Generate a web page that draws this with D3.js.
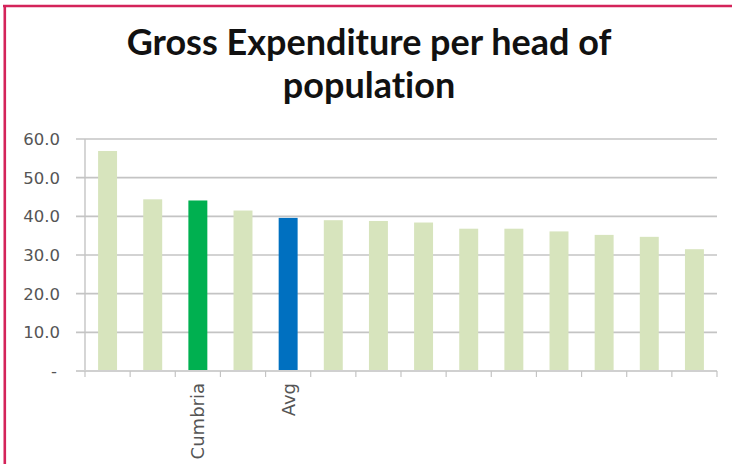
<!DOCTYPE html>
<html>
<head>
<meta charset="utf-8">
<script src="https://cdn.jsdelivr.net/npm/d3@7"></script>
<style>
  html, body { margin: 0; padding: 0; background: #fff; }
  svg { display: block; }
</style>
</head>
<body>
<svg id="chart" width="732" height="464"></svg>
<script>
// Gross expenditure per head of population, by authority (sorted high to low)
const barLabels = ["", "", "Cumbria", "", "Avg", "", "", "", "", "", "", "", "", ""];
const values = [56.9, 44.4, 44.1, 41.5, 39.6, 39.0, 38.8, 38.4, 36.8, 36.8, 36.1, 35.2, 34.7, 31.5];
const yTicks = [0, 10, 20, 30, 40, 50, 60];
const titleLines = ["Gross Expenditure per head of", "population"];

const svg = d3.select("#chart");
const W = 732, H = 464;
const plot = { left: 85, right: 717, top: 139, bottom: 371 };

// Frame: accent rule along the top and left edges
svg.append("line")
  .attr("x1", 3).attr("x2", W).attr("y1", 6).attr("y2", 6)
  .attr("stroke", "#d4235a").attr("stroke-width", 2.5);
svg.append("line")
  .attr("x1", 4.8).attr("x2", 4.8).attr("y1", 5).attr("y2", H)
  .attr("stroke", "#d4235a").attr("stroke-width", 2.6);

// Title
svg.append("text")
  .attr("x", 369).attr("y", 55)
  .attr("text-anchor", "middle")
  .attr("font-family", "Lato, 'Open Sans', sans-serif")
  .attr("font-weight", 700)
  .attr("font-size", 36)
  .attr("fill", "#111")
  .style("font-variant-ligatures", "none")
  .style("font-feature-settings", "'liga' 0, 'clig' 0")
  .selectAll("tspan")
  .data(titleLines)
  .join("tspan")
  .attr("x", 369)
  .attr("dy", (d, i) => i === 0 ? 0 : 43)
  .text(d => d);

const idx = values.map((_, i) => i);
const x = d3.scaleBand()
  .domain(idx)
  .range([plot.left, plot.right])
  .paddingInner(0.58)
  .paddingOuter(0.29);

const y = d3.scaleLinear()
  .domain([0, 60])
  .range([plot.bottom, plot.top]);

// Horizontal gridlines (with the outer tick stubs on the left)
svg.append("g")
  .selectAll("line")
  .data(yTicks.filter(t => t > 0))
  .join("line")
  .attr("x1", plot.left - 9).attr("x2", plot.right)
  .attr("y1", d => y(d)).attr("y2", d => y(d))
  .attr("stroke", "#c4c4c4").attr("stroke-width", 1.6);

// Y axis line
svg.append("line")
  .attr("x1", plot.left).attr("x2", plot.left)
  .attr("y1", plot.top).attr("y2", plot.bottom)
  .attr("stroke", "#c4c4c4").attr("stroke-width", 1.4);

// Y tick labels
const yFmt = d => d === 0 ? "-" : d3.format(".1f")(d);
svg.append("g")
  .selectAll("text")
  .data(yTicks)
  .join("text")
  .attr("x", d => d === 0 ? 57 : 60)
  .attr("y", d => y(d))
  .attr("dy", "0.36em")
  .attr("text-anchor", "end")
  .attr("font-family", "'DejaVu Sans', Verdana, sans-serif")
  .attr("font-size", 16.5)
  .attr("fill", "#555")
  .text(yFmt);

// Bars
const colorFor = (label) => label === "Cumbria" ? "#00b050" : label === "Avg" ? "#0070c0" : "#d7e4bd";
svg.append("g")
  .selectAll("rect")
  .data(idx)
  .join("rect")
  .attr("x", i => x(i))
  .attr("width", x.bandwidth())
  .attr("y", i => y(values[i]))
  .attr("height", i => y(0) - y(values[i]))
  .attr("fill", i => colorFor(barLabels[i]));

// X axis baseline and category boundary ticks
svg.append("line")
  .attr("x1", plot.left - 9).attr("x2", plot.right)
  .attr("y1", plot.bottom).attr("y2", plot.bottom)
  .attr("stroke", "#d0d0d0").attr("stroke-width", 2);

const step = x.step();
const boundaries = d3.range(values.length + 1).map(k => plot.left + k * step);
svg.append("g")
  .selectAll("line")
  .data(boundaries)
  .join("line")
  .attr("x1", d => d).attr("x2", d => d)
  .attr("y1", plot.bottom).attr("y2", plot.bottom + 6)
  .attr("stroke", "#c4c4c4").attr("stroke-width", 1.2);

// Category labels, rotated
svg.append("g")
  .selectAll("text")
  .data(idx.filter(i => barLabels[i] !== ""))
  .join("text")
  .attr("transform", i => `translate(${x(i) + x.bandwidth() / 2},383) rotate(-90)`)
  .attr("dy", "0.36em")
  .attr("text-anchor", "end")
  .attr("font-family", "'DejaVu Sans', Verdana, sans-serif")
  .attr("font-size", 18)
  .attr("fill", "#555")
  .text(i => barLabels[i]);
</script>
</body>
</html>
